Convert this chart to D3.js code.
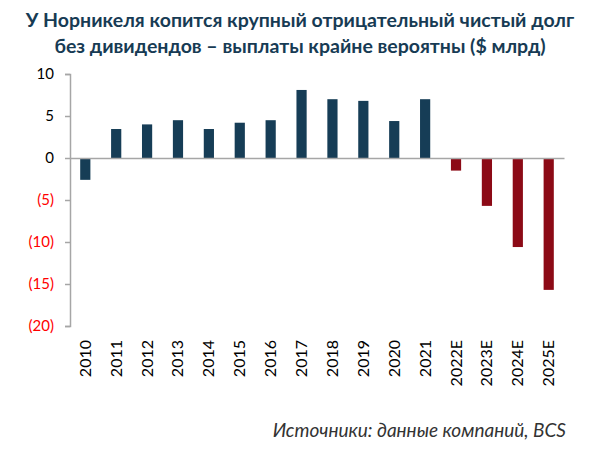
<!DOCTYPE html>
<html><head><meta charset="utf-8">
<script src="https://cdn.jsdelivr.net/npm/d3@7"></script>
<style>body{margin:0;background:#fff}svg{display:block}</style>
</head><body>
<svg id="c" width="600" height="454"></svg>
<script>
const categories = ["2010","2011","2012","2013","2014","2015","2016","2017","2018","2019","2020","2021","2022E","2023E","2024E","2025E"];
const values = [-2.6,3.45,4.0,4.5,3.45,4.2,4.5,8.1,7.0,6.8,4.4,7.0,-1.5,-5.7,-10.6,-15.7];
const isForecast = [false,false,false,false,false,false,false,false,false,false,false,false,true,true,true,true];
const yTicks = [10,5,0,-5,-10,-15,-20];
const titleLines = ["У Норникеля копится крупный отрицательный чистый долг","без дивидендов – выплаты крайне вероятны ($ млрд)"];
const source = "Источники: данные компаний, BCS";

const svg = d3.select("#c");
const font = "Lato, 'Open Sans', sans-serif";
const x = d3.scaleBand().domain(categories).range([70, 564]).paddingInner(0.67).paddingOuter(0.33);
const y = d3.scaleLinear().domain([-20, 10]).range([326, 74]);

svg.selectAll("text.title").data(titleLines).enter().append("text")
  .attr("x", 300).attr("y", (d,i)=>27+i*26).attr("text-anchor","middle")
  .attr("font-family", font).attr("font-weight","bold").attr("font-size", 19.5)
  .attr("fill", "#173B54").text(d=>d);

// y axis
const yAxis = svg.append("g").attr("transform","translate(70,0)")
  .call(d3.axisLeft(y).tickValues(yTicks).tickSize(5).tickPadding(11)
    .tickFormat(d => d < 0 ? "(" + Math.abs(d) + ")" : d));
yAxis.select(".domain").attr("stroke","#a6a6a6").attr("stroke-width",1.5);
yAxis.selectAll(".tick line").attr("stroke","#a6a6a6").attr("stroke-width",1.5);
yAxis.selectAll(".tick text").attr("font-family", font).attr("font-size", 15)
  .attr("fill", d => d < 0 ? "#ff0000" : "#000");

// bars
svg.selectAll("rect.bar").data(values).enter().append("rect")
  .attr("x", (d,i)=>x(categories[i])).attr("width", x.bandwidth())
  .attr("y", d=>y(Math.max(0,d))).attr("height", d=>Math.abs(y(d)-y(0)))
  .attr("fill", (d,i)=>isForecast[i] ? "#8C0A16" : "#163D56");

// zero line
const xAxis = svg.append("g").attr("transform",`translate(0,${y(0)})`)
  .call(d3.axisBottom(x).tickSize(0).tickFormat(""));
xAxis.select(".domain").attr("stroke","#a6a6a6").attr("stroke-width",1.5);

// x labels
svg.selectAll("text.xl").data(categories).enter().append("text")
  .attr("transform", d=>`translate(${x(d)+x.bandwidth()/2+5.5},340) rotate(-90)`)
  .attr("text-anchor","end").attr("font-family", font).attr("font-size", 16)
  .attr("fill","#000").text(d=>d);

svg.append("text").attr("x", 566).attr("y", 437).attr("text-anchor","end")
  .attr("font-family", font).attr("font-style","italic").attr("font-size", 19)
  .attr("fill","#333").text(source);
</script>
</body></html>
